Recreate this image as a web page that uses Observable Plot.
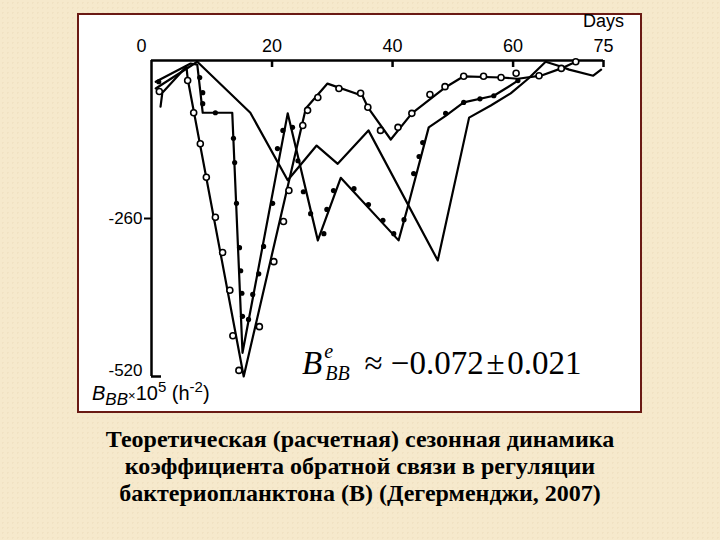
<!DOCTYPE html>
<html>
<head>
<meta charset="utf-8">
<script src="https://cdn.jsdelivr.net/npm/d3@7"></script>
<script src="https://cdn.jsdelivr.net/npm/@observablehq/plot@0.6"></script>
<style>
  html, body { margin: 0; padding: 0; }
  body { width: 720px; height: 540px; background: #f6e9cc; overflow: hidden; }
  #page { position: relative; width: 720px; height: 540px;
    background: #f6e9cc;
    background-image: radial-gradient(rgba(200,170,120,0.10) 1px, transparent 1px);
    background-size: 5px 5px; }
  #panel { position: absolute; left: 77px; top: 13px; width: 561px; height: 396px;
    background: #ffffff; border: 2px solid #6a1a14; }
  #chart { position: absolute; left: 0; top: 0; }
  .sans { font-family: "Liberation Sans", Arial, sans-serif; color: #000; }
  #days { position: absolute; left: 583px; top: 11px; font-size: 18px; }
  #ylab { position: absolute; left: 92px; top: 382px; font-size: 20px; white-space: nowrap; }
  #ylab sub { font-size: 17px; vertical-align: -5px; line-height: 0; }
  #ylab sup { font-size: 15px; vertical-align: 8px; line-height: 0; }
  #formula { position: absolute; left: 302px; top: 347px; font-family: "Liberation Serif", "Times New Roman", serif;
    font-size: 33px; white-space: nowrap; line-height: 1; color: #000; }
  #formula .sx { display: inline-block; position: relative; width: 34px; height: 33px; vertical-align: top; }
  #formula .sx i { position: absolute; font-size: 20px; }
  #caption { position: absolute; left: 0; top: 426px; width: 720px; text-align: center;
    font-family: "Liberation Serif", "Times New Roman", serif; font-weight: bold; font-size: 24px;
    line-height: 27px; color: #000; }
</style>
</head>
<body>
<div id="page">
  <div id="panel"></div>
  <div id="chart"></div>
  <div id="days" class="sans">Days</div>
  <div id="ylab" class="sans"><i>B</i><sub><i>BB</i></sub><span style="font-size:13px">×</span>10<sup>5</sup> (h<sup>-2</sup>)</div>
  <div id="formula"><i>B</i><span class="sx"><i style="left:2px;top:-6px">e</i><i style="left:3px;top:16px">BB</i></span> ≈ −0.072&#8202;±&#8202;0.021</div>
  <div id="caption">Теоретическая (расчетная) сезонная динамика<br>коэффициента обратной связи в регуляции<br>бактериопланктона (В) (Дегерменджи, 2007)</div>
</div>
<script>
// Plain line (no markers)
const plainDays = [0.7, 7.6, 16.4, 22.6, 27.4, 30.9, 36.0, 47.5, 52.7, 56.3, 59.6, 62.5, 65.4, 67.9, 69.3, 73.3, 74.6];
const plainVals = [-46, -2, -86, -197, -140, -170, -115, -329, -94, -74, -54, -30, -2, -10, -15, -25, -15];

// Line with open circles
const openDays = [1.5, 1.8, 5.8, 6.0, 15.3, 25.6, 29.2, 35.0, 35.9, 39.7, 43.2, 48.8, 51.8, 58.0, 60.8, 64.6, 68.0, 70.4];
const openVals = [-76, -53, -10, -30, -520, -79, -38, -58, -77, -130, -87, -44, -26, -28, -30, -25, -13, -2];
const openMarkDays = [1.3, 6.0, 7.0, 8.1, 9.1, 10.6, 11.8, 13.0, 13.5, 14.5, 17.9, 20.3, 21.9, 22.8, 25.1, 25.9, 27.6, 31.1, 34.7, 35.9, 38.0, 40.9, 43.2, 46.2, 48.7, 51.8, 55.1, 58.0, 60.5, 64.3, 68.0, 70.4];
const openMarkVals = [-51, -33, -86, -137, -192, -258, -316, -378, -453, -510, -438, -331, -265, -214, -107, -82, -61, -46, -54, -77, -115, -110, -87, -56, -43, -26, -26, -28, -21, -25, -13, -2];

// Line with filled dots
const dotDays = [0.7, 6.5, 7.6, 8.5, 13.4, 15.1, 22.6, 27.6, 31.4, 41.0, 42.5, 46.0, 48.8, 51.8, 56.8, 59.1, 60.8];
const dotVals = [-35, -5, -7, -86, -86, -481, -87, -296, -193, -296, -242, -110, -91, -69, -58, -44, -33];
const dotMarkDays = [1.2, 8.0, 8.5, 8.5, 10.6, 13.6, 13.8, 14.1, 14.6, 14.8, 15.0, 15.1, 16.1, 16.8, 17.8, 18.6, 20.1, 20.9, 21.8, 23.4, 24.3, 25.2, 26.4, 28.6, 29.1, 30.2, 33.6, 36.0, 38.4, 40.2, 41.9, 43.5, 44.4, 45.0, 48.8, 51.8, 54.5, 56.8, 60.8];
const dotMarkVals = [-35, -28, -53, -71, -86, -128, -168, -235, -308, -346, -383, -421, -426, -385, -351, -306, -235, -145, -115, -110, -165, -216, -252, -285, -245, -214, -211, -237, -263, -285, -262, -186, -158, -135, -87, -69, -63, -58, -33];

// Axis ticks
const xTickLabels = [20, 40, 60, 75];
const xZeroLabel = [0];
const xTickMarks = [20, 40, 60, 75];
const yTickLeft = [-260];
const yBottom = [-520];

const zip = (xs, ys) => xs.map((x, i) => ({day: x, val: ys[i]}));
const plain = zip(plainDays, plainVals);
const open = zip(openDays, openVals);
const openMarks = zip(openMarkDays, openMarkVals);
const dots = zip(dotDays, dotVals);
const dotMarks = zip(dotMarkDays, dotMarkVals);

const W = 720, H = 540, mL = 151, mR = 117, mT = 60, mB = 164;
const frameH = H - mT - mB, frameW = W - mL - mR;

const chart = Plot.plot({
  width: W, height: H,
  marginLeft: mL, marginRight: mR, marginTop: mT, marginBottom: mB,
  x: {domain: [0, 75]},
  y: {domain: [-520, 0]},
  style: {background: "transparent", fontFamily: "Liberation Sans, Arial, sans-serif", fontSize: "17px", color: "#000", overflow: "visible"},
  marks: [
    Plot.ruleY([0], {stroke: "#000", strokeWidth: 2.5}),
    Plot.ruleX([0], {stroke: "#000", strokeWidth: 2.5}),
    Plot.ruleX(xTickMarks, {stroke: "#000", strokeWidth: 2.5, insetBottom: frameH - 7}),
    Plot.ruleY(yBottom, {stroke: "#000", strokeWidth: 2.5, insetRight: frameW - 10}),
    Plot.axisX(xTickLabels, {anchor: "top", tickSize: 0, tickPadding: 9, label: null, fontSize: 18}),
    Plot.axisX(xZeroLabel, {anchor: "top", tickSize: 0, tickPadding: 9, dx: -10, label: null, fontSize: 18}),
    Plot.axisY(yTickLeft, {anchor: "left", tickSize: 7, strokeWidth: 2, tickPadding: 2, tickFormat: d => String(d), label: null, fontSize: 17}),
    Plot.axisY(yBottom, {anchor: "left", tickSize: 0, tickPadding: 9, dy: -6, tickFormat: d => String(d), label: null, fontSize: 17}),
    Plot.line(plain, {x: "day", y: "val", stroke: "#000", strokeWidth: 2.2}),
    Plot.line(open, {x: "day", y: "val", stroke: "#000", strokeWidth: 2.2}),
    Plot.line(dots, {x: "day", y: "val", stroke: "#000", strokeWidth: 2.2}),
    Plot.dot(openMarks, {x: "day", y: "val", r: 3, stroke: "#000", strokeWidth: 1.6, fill: "#fff"}),
    Plot.dot(dotMarks, {x: "day", y: "val", r: 2.6, fill: "#000", stroke: "none"})
  ]
});
document.getElementById("chart").appendChild(chart);
</script>
</body>
</html>
